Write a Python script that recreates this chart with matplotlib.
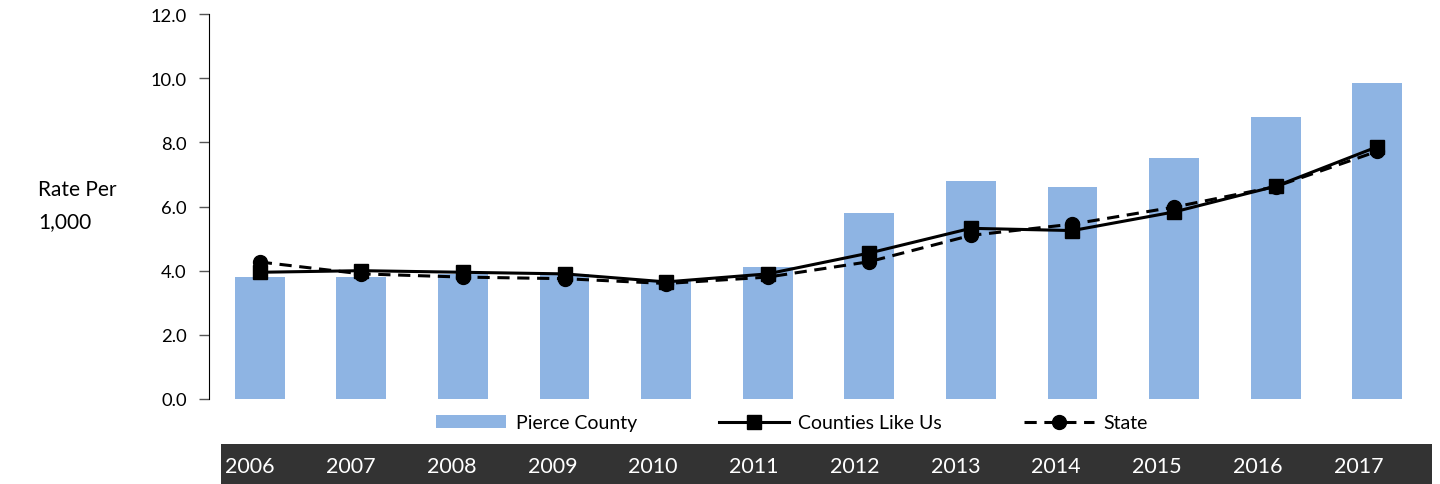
import matplotlib
matplotlib.use("Agg")
import matplotlib.pyplot as plt
import numpy as np

plt.rcParams['font.family'] = ['Lato', 'DejaVu Sans']

# data
years = ['2006', '2007', '2008', '2009', '2010', '2011',
         '2012', '2013', '2014', '2015', '2016', '2017']
pierce = [3.8, 3.8, 3.9, 3.9, 3.7, 4.1, 5.8, 6.8, 6.6, 7.5, 8.8, 9.85]
counties = [3.95, 4.0, 3.95, 3.9, 3.65, 3.9, 4.55, 5.32, 5.25, 5.83, 6.63, 7.86]
state = [4.27, 3.9, 3.8, 3.75, 3.6, 3.8, 4.28, 5.1, 5.45, 5.98, 6.62, 7.72]

x = np.arange(len(years))

fig = plt.figure(figsize=(14.4, 4.85), dpi=100)
ax = fig.add_axes([209/1440, 85/485, 1219/1440, 385/485])

b = ax.bar(x, pierce, width=0.49, color='#8EB4E3', label='Pierce County', zorder=1)
l1, = ax.plot(x, counties, color='black', lw=2.2, marker='s', ms=10,
              label='Counties Like Us', zorder=3)
l2, = ax.plot(x, state, color='black', lw=2.2, ls=(0, (4, 2.5)), marker='o', ms=10,
              label='State', zorder=2)

ax.set_xlim(-0.5, len(years) - 0.5)
ax.set_ylim(0, 12)
ax.set_yticks(np.arange(0, 12.1, 2))
ax.set_yticklabels([f'{v:.1f}' for v in np.arange(0, 12.1, 2)], fontsize=13.2)
ax.tick_params(axis='y', length=7, width=1, pad=9, color='#555555')
ax.set_xticks([])
for s in ['top', 'right', 'bottom']:
    ax.spines[s].set_visible(False)
ax.spines['left'].set_color('black')

fig.text(38/1440, 1 - 190/485, 'Rate Per', fontsize=15, va='center', ha='left')
fig.text(38/1440, 1 - 222/485, '1,000', fontsize=15, va='center', ha='left')

fig.legend(handles=[b, l1, l2], loc='center', bbox_to_anchor=(792/1440, 1 - 424/485),
           ncol=3, frameon=False, fontsize=14, handlelength=3.6, handleheight=0.6,
           handletextpad=0.5, columnspacing=4.2)

# dark year band at the bottom
band = fig.add_axes([221/1440, 0, 1211/1440, 40/485])
band.set_facecolor('#333333')
band.set_xlim(-0.29, 11.73)
band.set_ylim(0, 1)
for i, yr in enumerate(years):
    band.text(i, 0.45, yr, color='white', fontsize=15.5, ha='center', va='center')
band.set_xticks([])
band.set_yticks([])
for s in band.spines.values():
    s.set_visible(False)

fig.savefig('out.png', dpi=100)
